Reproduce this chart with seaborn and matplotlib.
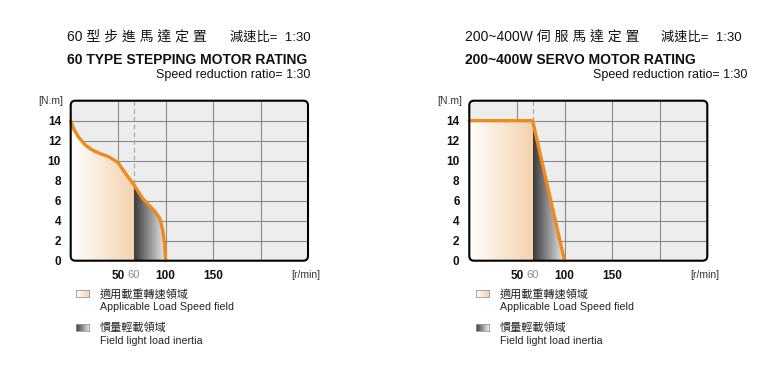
import numpy as np
import matplotlib
matplotlib.use('Agg')
import matplotlib.pyplot as plt
import seaborn as sns
import pandas as pd
from matplotlib.patches import FancyBboxPatch
from matplotlib.colors import LinearSegmentedColormap

sns.set_theme(style='white')
plt.rcParams['font.family'] = ['Liberation Sans', 'Noto Sans CJK TC', 'DejaVu Sans']

# stepping motor torque curve (speed r/min, torque N.m)
step_speed = [0, 3, 8, 15, 22, 30, 40, 50, 58, 66.5, 76, 84, 89, 94, 97, 98.7, 99.5, 100]
step_torque = [14, 13.2, 12.4, 11.6, 11.1, 10.75, 10.4, 9.8, 8.7, 7.6, 6.2, 5.4, 4.9, 4.2, 3.0, 1.8, 0.8, 0]

# servo motor torque curve
servo_speed = [0, 66.5, 100]
servo_torque = [14, 14, 0]

knee = 66.5          # where the "60" mark sits on the drawn axis
x_ticks = [50, knee, 100, 150]
x_labels = ['50', '60', '100', '150']
x_grid = [50, 100, 150, 200]
y_ticks = [0, 2, 4, 6, 8, 10, 12, 14]

titles_zh = ['60 型 步 進 馬 達 定 置', '200~400W 伺 服 馬 達 定 置']
titles_en = ['60 TYPE STEPPING MOTOR RATING', '200~400W SERVO MOTOR RATING']
ratio_zh = '減速比=  1:30'
ratio_en = 'Speed reduction ratio= 1:30'
legend_zh = ['適用載重轉速領域', '慣量輕載領域']
legend_en = ['Applicable Load Speed field', 'Field light load inertia']

orange = '#ee8a1e'
cm_orange = LinearSegmentedColormap.from_list('o', ['#ffffff', '#f3d2ac'])
cm_gray = LinearSegmentedColormap.from_list('g', ['#3a3a3a', '#eeeeee'])

W, H = 770, 382
fig = plt.figure(figsize=(7.7, 3.82), dpi=100)


def px(x, y):
    return x / W, 1 - y / H


def draw_chart(ax, speed, torque):
    ax.patch.set_visible(False)
    for s in ax.spines.values():
        s.set_visible(False)
    bg = FancyBboxPatch((0, 0), 1, 1, boxstyle='round,pad=0,rounding_size=0.02',
                        transform=ax.transAxes, facecolor='#ededed', edgecolor='none',
                        zorder=0, mutation_aspect=238 / 160, clip_on=False)
    ax.add_patch(bg)
    for g in x_grid:
        ax.axvline(g, color='#8a8a8a', lw=0.8, zorder=1)
    for g in y_ticks[1:]:
        ax.axhline(g, color='#8a8a8a', lw=0.8, zorder=1)
    ax.axvline(knee, color='#a0a0a0', lw=0.8, ls=(0, (4, 3)), zorder=1)

    df = pd.DataFrame({'speed': speed, 'torque': torque})
    poly = ax.fill_between(df['speed'], df['torque'], 0, color='none', lw=0)
    grad = np.linspace(0, 1, 256).reshape(1, -1)
    im1 = ax.imshow(grad, cmap=cm_orange, extent=[0, knee, 0, 16], aspect='auto', zorder=2)
    im2 = ax.imshow(grad, cmap=cm_gray, extent=[knee, 100, 0, 16], aspect='auto', zorder=2)
    im1.set_clip_path(poly.get_paths()[0], transform=ax.transData)
    im2.set_clip_path(poly.get_paths()[0], transform=ax.transData)
    sns.lineplot(data=df, x='speed', y='torque', ax=ax, color=orange, lw=2.4,
                 sort=False, estimator=None, zorder=4, clip_on=False)

    frame = FancyBboxPatch((0, 0), 1, 1, boxstyle='round,pad=0,rounding_size=0.02',
                           transform=ax.transAxes, facecolor='none', edgecolor='black',
                           lw=1.5, zorder=5, mutation_aspect=238 / 160, clip_on=False)
    ax.add_patch(frame)

    ax.set_xlim(0, 250)
    ax.set_ylim(0, 16)
    ax.set_xlabel('')
    ax.set_ylabel('')
    ax.set_xticks(x_ticks)
    ax.set_xticklabels(x_labels)
    ax.set_yticks(y_ticks)
    ax.set_yticklabels([str(v) for v in y_ticks])
    ax.tick_params(length=0, labelsize=8.5, colors='#111111')
    ax.tick_params(axis='x', pad=7)
    ax.tick_params(axis='y', pad=7)
    for t in ax.get_yticklabels():
        t.set_fontweight('bold')
    for t, lab in zip(ax.get_xticklabels(), x_labels):
        if lab == '60':
            t.set_color('#8c8c8c')
            t.set_fontweight('normal')
            t.set_fontsize(8)
        else:
            t.set_fontweight('bold')


ax1 = fig.add_axes([70.7 / W, (H - 260.7) / H, 237.3 / W, 160 / H])
ax2 = fig.add_axes([469.3 / W, (H - 260.7) / H, 238 / W, 160 / H])
draw_chart(ax1, step_speed, step_torque)
draw_chart(ax2, servo_speed, servo_torque)

# headers
heads = [(67, 230, 310, 71, 308), (465, 661, 747, 470, 707)]
for i, (xl, xr, xre, axl, axr) in enumerate(heads):
    fig.text(*px(xl, 37), titles_zh[i], fontsize=10, va='center', color='#111111')
    fig.text(*px(xr, 37.5), ratio_zh, fontsize=9.5, va='center', color='#111111')
    fig.text(*px(xl, 60), titles_en[i], fontsize=10, fontweight='bold', va='center', color='#111111')
    fig.text(*px(xre, 75), ratio_en, fontsize=9, va='center', ha='right', color='#111111')
    fig.text(*px(axl - 8, 101.5), '[N.m]', fontsize=7.5, va='center', ha='right', color='#333333')
    fig.text(*px(axr + 12, 275), '[r/min]', fontsize=7.5, va='center', ha='right', color='#333333')

# legends
for i, x0 in enumerate([76, 476]):
    for j, (y0, cm) in enumerate([(290, cm_orange), (324, cm_gray)]):
        lax = fig.add_axes([x0 / W, (H - y0 - 7) / H, 13 / W, 7 / H])
        lax.imshow(np.linspace(0, 1, 64).reshape(1, -1), cmap=cm, aspect='auto')
        lax.set_xticks([])
        lax.set_yticks([])
        for s in lax.spines.values():
            s.set_color('#999999')
            s.set_linewidth(0.6)
        fig.text(*px(x0 + 24, y0 + 4), legend_zh[j], fontsize=8, va='center', color='#222222')
        fig.text(*px(x0 + 24, y0 + 17), legend_en[j], fontsize=7.7, va='center', color='#222222')

fig.savefig('out.png', dpi=100)
